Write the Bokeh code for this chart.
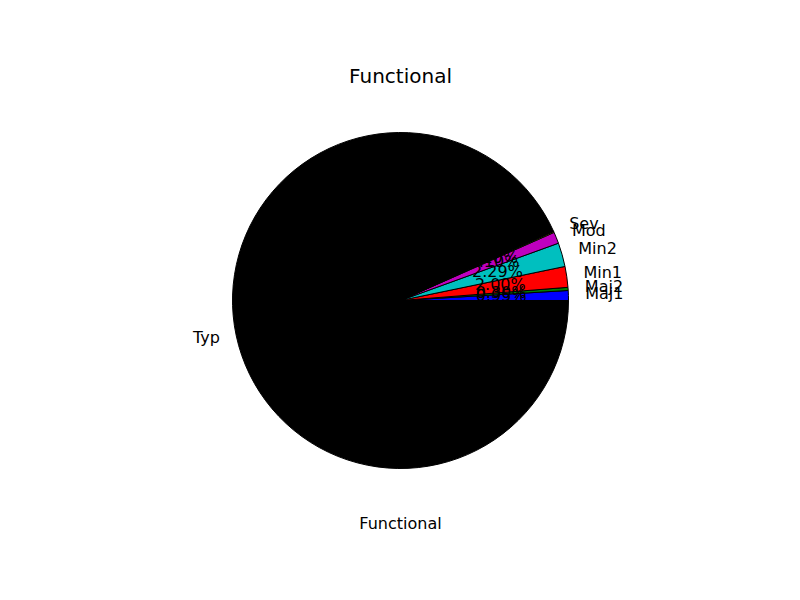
import numpy as np
from bokeh.plotting import figure
from bokeh.models import ColumnDataSource
from bokeh.core.properties import value
from bokeh.embed import file_html
from bokeh.resources import INLINE

categories = ["Maj1", "Maj2", "Min1", "Min2", "Mod", "Sev", "Typ"]
percents = [0.95, 0.30, 2.00, 2.29, 1.10, 0.10, 93.26]
colors = ["#0000ff", "#008000", "#ff0000", "#00bfbf", "#bf00bf", "#bfbf00", "#000000"]
title_text = "Functional"
xlabel_text = "Functional"

FONT = "DejaVu Sans"
R = 168.0
DY = 1.5  # small vertical offset for text baseline matching

p = figure(width=800, height=600, x_range=(-400, 400), y_range=(-300, 300),
           output_backend="svg", toolbar_location=None, min_border=0,
           background_fill_color="white", border_fill_color="white")
p.axis.visible = False
p.grid.visible = False
p.outline_line_color = None

vals = np.array(percents, dtype=float)
frac = vals / vals.sum()
ends = np.cumsum(frac) * 2 * np.pi
starts = ends - frac * 2 * np.pi
mids = (starts + ends) / 2

src = ColumnDataSource(dict(start=starts, end=ends, color=colors))
p.wedge(x=0, y=0, radius=R, start_angle="start", end_angle="end",
        fill_color="color", line_color="black", line_width=1, source=src)

# category labels
lx = 1.1 * R * np.cos(mids)
ly = 1.1 * R * np.sin(mids) + DY
align = ["left" if c >= 0 else "right" for c in np.cos(mids)]
lab_src = ColumnDataSource(dict(x=lx, y=ly, t=categories, a=align))
p.text(x="x", y="y", text="t", text_align="a", text_baseline="middle",
       text_font=value(FONT), text_font_size="16px", text_color="black", source=lab_src)

# percentage labels
px = 0.6 * R * np.cos(mids)
py = 0.6 * R * np.sin(mids) + DY
pct = ["%1.2f%%" % v for v in vals]
pct_src = ColumnDataSource(dict(x=px, y=py, t=pct))
p.text(x="x", y="y", text="t", text_align="center", text_baseline="middle",
       text_font=value(FONT), text_font_size="16px", text_color="black", source=pct_src)

# title and xlabel
p.text(x=[0], y=[300 - 77 + DY], text=[title_text], text_align="center", text_baseline="middle",
       text_font=value(FONT), text_font_size="20px", text_color="black")
p.text(x=[0], y=[300 - 524 + DY], text=[xlabel_text], text_align="center", text_baseline="middle",
       text_font=value(FONT), text_font_size="16px", text_color="black")

open("out.html", "w").write(file_html(p, INLINE))
